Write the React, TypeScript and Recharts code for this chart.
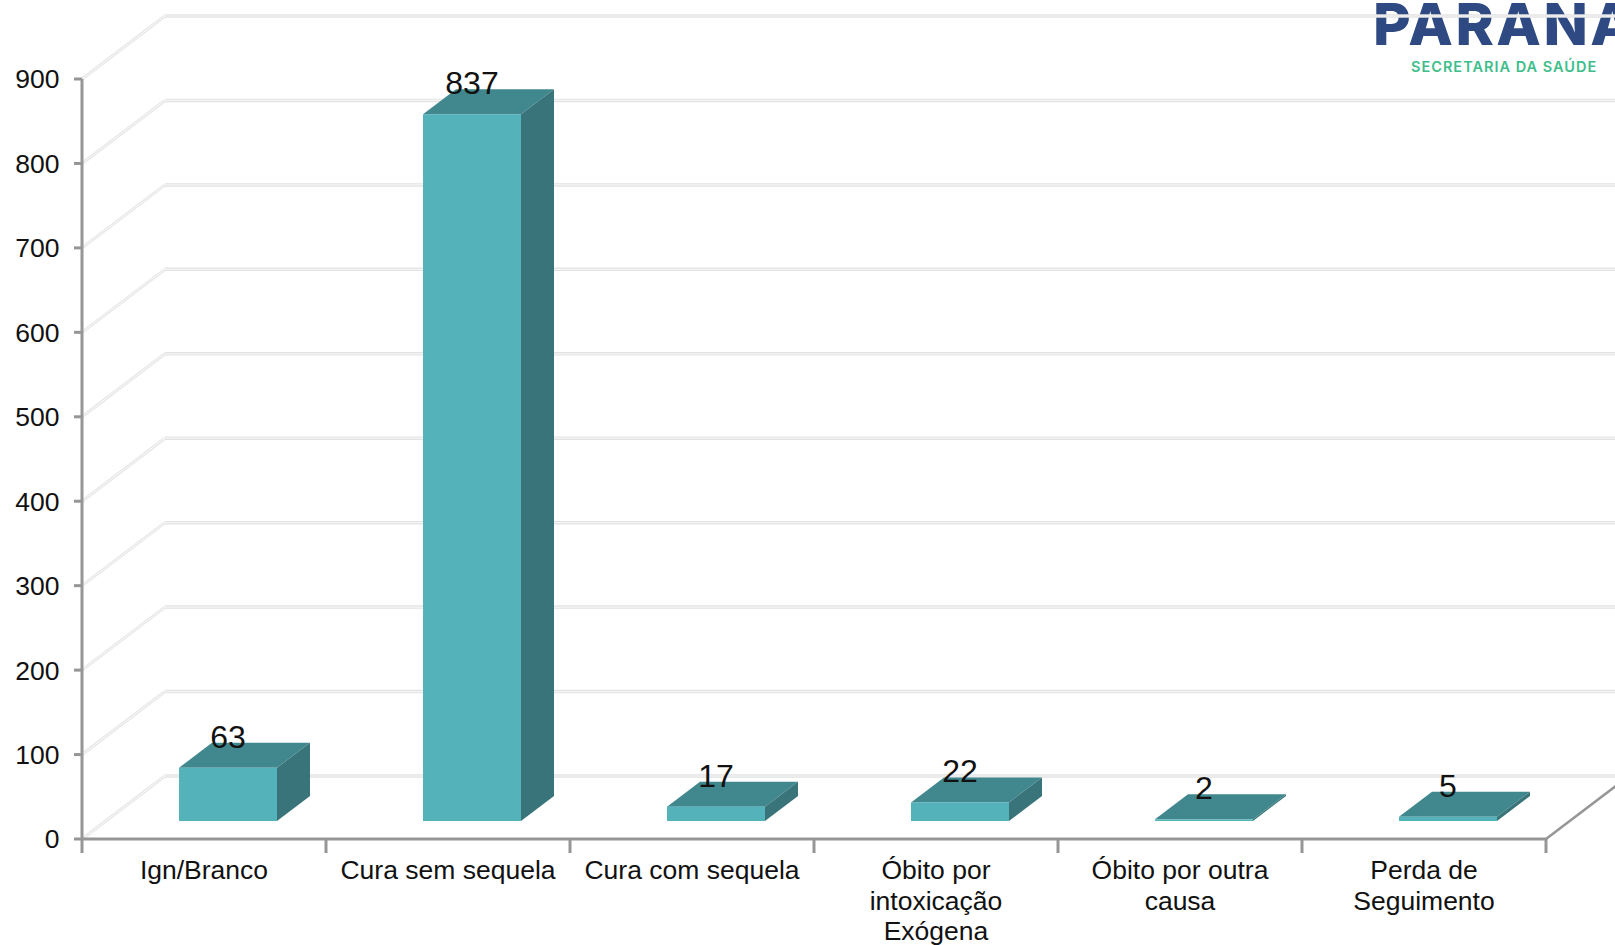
import { BarChart, Bar, XAxis, YAxis, CartesianGrid, LabelList } from 'recharts';

const categories = ['Ign/Branco', 'Cura sem sequela', 'Cura com sequela', 'Óbito por\nintoxicação\nExógena', 'Óbito por outra\ncausa', 'Perda de\nSeguimento'];
const values = [63, 837, 17, 22, 2, 5];
const yTicks = [0, 100, 200, 300, 400, 500, 600, 700, 800, 900];

const data = categories.map((name, i) => ({ name, value: values[i] }));

const WIDTH = 1615;
const HEIGHT = 945;
const AXIS = '#969696';
// 3d look: wall sits behind the axes, bars stand halfway into the floor
const WALL_DX = 83;
const WALL_DY = 63;
const BAR_DX = 33;
const BAR_DY = 25;
const BAR_SHIFT_X = 24;
const BAR_SHIFT_Y = 18;
const BAND = 244;

function Box(props: any) {
  const { width, height } = props;
  const x = props.x + BAR_SHIFT_X;
  const y = props.y - BAR_SHIFT_Y;
  const r = x + width;
  const b = y + height;
  return (
    <g>
      <polygon points={`${x},${y} ${x + BAR_DX},${y - BAR_DY} ${r + BAR_DX},${y - BAR_DY} ${r},${y}`} fill="#41888E" />
      <polygon points={`${r},${y} ${r + BAR_DX},${y - BAR_DY} ${r + BAR_DX},${b - BAR_DY} ${r},${b}`} fill="#39747A" />
      <rect x={x} y={y} width={width} height={height} fill="#54B2BB" />
    </g>
  );
}

function GridLine(props: any) {
  const { x1, y1 } = props;
  const bx = x1 + WALL_DX;
  const by = y1 - WALL_DY;
  return (
    <g key={props.key}>
      <line x1={x1} y1={y1} x2={bx} y2={by} stroke="#e6e6e6" strokeWidth={3} />
      <line x1={x1} y1={y1} x2={bx} y2={by} stroke="#fbfbfb" strokeWidth={1} />
      <line x1={bx} y1={by} x2={WIDTH} y2={by} stroke="#e2e2e2" strokeWidth={3.5} />
      <line x1={bx} y1={by} x2={WIDTH} y2={by} stroke="#f6f6f6" strokeWidth={1.2} />
    </g>
  );
}

function CategoryTick(props: any) {
  const { x, y, payload, index } = props;
  const left = x - BAND / 2;
  const right = x + BAND / 2;
  const lines = String(payload.value).split('\n');
  return (
    <g>
      <line x1={left} y1={y - 8} x2={left} y2={y + 6} stroke={AXIS} strokeWidth={3} />
      {index === categories.length - 1 && (
        <>
          <line x1={right} y1={y - 8} x2={right} y2={y + 6} stroke={AXIS} strokeWidth={3} />
          <line x1={right} y1={y - 8} x2={right + WALL_DX} y2={y - 8 - WALL_DY} stroke={AXIS} strokeWidth={2.5} />
        </>
      )}
      {lines.map((line, i) => (
        <text key={i} x={x} y={y + 23 + i * 30.5} textAnchor="middle" dominantBaseline="central" fontSize={26.5} fill="#111">
          {line}
        </text>
      ))}
    </g>
  );
}

function ValueLabel(props: any) {
  const { x, y, width, value } = props;
  return (
    <text x={x + width / 2 + BAR_SHIFT_X} y={y - 49} textAnchor="middle" dominantBaseline="central" fontSize={32} fill="#111">
      {value}
    </text>
  );
}

export default function App() {
  return (
    <div style={{ position: 'absolute', left: 0, top: 0, width: WIDTH, height: HEIGHT, background: '#fff', overflow: 'hidden', fontFamily: '"Liberation Sans", Arial, sans-serif' }}>
      <div style={{ position: 'absolute', left: 1373, top: -1, fontFamily: 'Inter', fontWeight: 800, fontSize: 58, lineHeight: '50px', letterSpacing: 2.5, color: '#2F4A82', whiteSpace: 'nowrap' }}>
        PARANÁ
      </div>
      <div style={{ position: 'absolute', left: 1411, top: 58, fontFamily: 'Inter', fontWeight: 600, fontSize: 14.5, lineHeight: '18px', letterSpacing: 1, color: '#3DBE8B', whiteSpace: 'nowrap' }}>
        SECRETARIA DA SAÚDE
      </div>
      <div style={{ position: 'absolute', left: 0, top: 0 }}>
        <BarChart width={WIDTH} height={HEIGHT} data={data} margin={{ top: 79, right: 69, left: 0, bottom: 0 }} barSize={98}>
          <CartesianGrid vertical={false} horizontal={GridLine as any} />
          <XAxis
            dataKey="name"
            interval={0}
            height={106}
            tickLine={false}
            axisLine={{ stroke: AXIS, strokeWidth: 3 }}
            tick={CategoryTick as any}
          />
          <YAxis
            width={82}
            domain={[0, 900]}
            ticks={yTicks}
            interval={0}
            tickSize={8}
            tickMargin={14.5}
            axisLine={{ stroke: AXIS, strokeWidth: 3 }}
            tickLine={{ stroke: AXIS, strokeWidth: 3 }}
            tick={{ fontSize: 26.5, fill: '#111' }}
          />
          <Bar dataKey="value" shape={Box as any} isAnimationActive={false}>
            <LabelList dataKey="value" content={ValueLabel as any} />
          </Bar>
        </BarChart>
      </div>
    </div>
  );
}
